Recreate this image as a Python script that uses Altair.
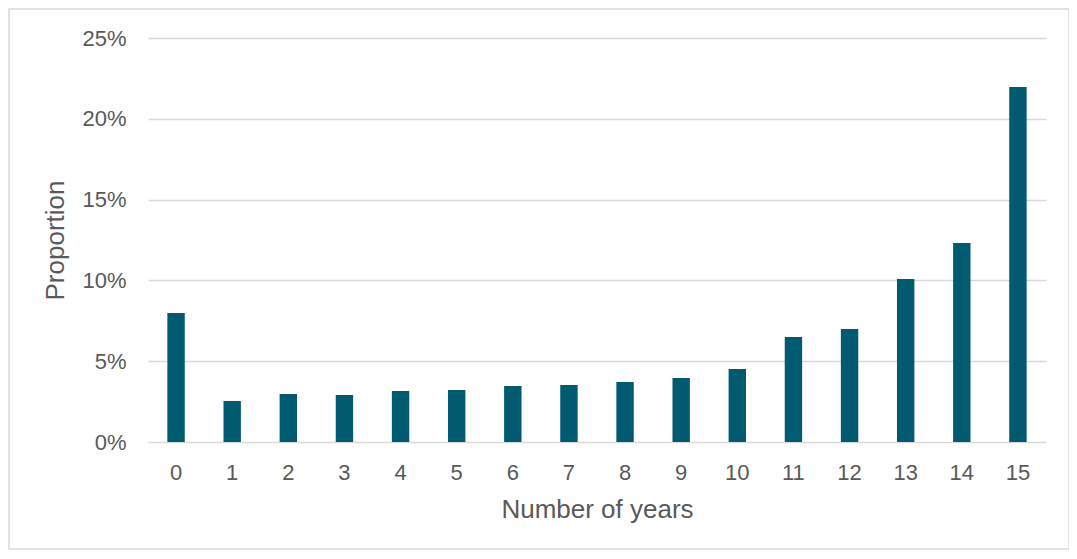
import altair as alt
import pandas as pd

years = [str(i) for i in range(16)]
proportions = [0.0798, 0.0254, 0.0297, 0.0291, 0.0316, 0.0322, 0.0347, 0.0353,
               0.0371, 0.0396, 0.0452, 0.0650, 0.0699, 0.1009, 0.1231, 0.2197]

df = pd.DataFrame({"years": years, "proportion": proportions})

FONT = "Liberation Sans"
TEXT = "#595959"
GRID = "#D9D9D9"

frame = alt.Chart(pd.DataFrame({"k": [0]})).mark_rect(
    fill="white", fillOpacity=0, stroke=GRID, strokeWidth=1.5
).encode(
    x=alt.value(-139), x2=alt.value(921), y=alt.value(-29), y2=alt.value(511)
)

bars = alt.Chart(df).mark_bar(color="#005B70").encode(
    x=alt.X("years:N", sort=years,
            scale=alt.Scale(paddingInner=0.69, paddingOuter=0.345),
            axis=alt.Axis(title="Number of years", labelAngle=0, domain=False,
                          ticks=False, labelPadding=20, labelFontSize=22,
                          titleFontSize=26, titleFontWeight="normal",
                          titleY=75, titleBaseline="alphabetic")),
    y=alt.Y("proportion:Q",
            scale=alt.Scale(domain=[0, 0.25], nice=False),
            axis=alt.Axis(title="Proportion", format=".0%", values=[0, 0.05, 0.10, 0.15, 0.20, 0.25],
                          domain=False, ticks=False, labelPadding=22,
                          labelFontSize=22, titleFontSize=26, titleFontWeight="normal",
                          gridColor=GRID, gridWidth=1.5,
                          titleX=-85, titleY=202, titleAngle=-90,
                          titleAlign="center", titleBaseline="alphabetic")),
)

chart = alt.layer(frame, bars).properties(
    width=898, height=404,
    autosize=alt.AutoSizeParams(type="none"),
    padding={"left": 140, "top": 30, "right": 23, "bottom": 109},
    background="white",
).configure_view(stroke=None).configure_axis(
    labelFont=FONT, titleFont=FONT, labelColor=TEXT, titleColor=TEXT
)

chart.save("out.html", embed_options={"renderer": "svg", "actions": False})
